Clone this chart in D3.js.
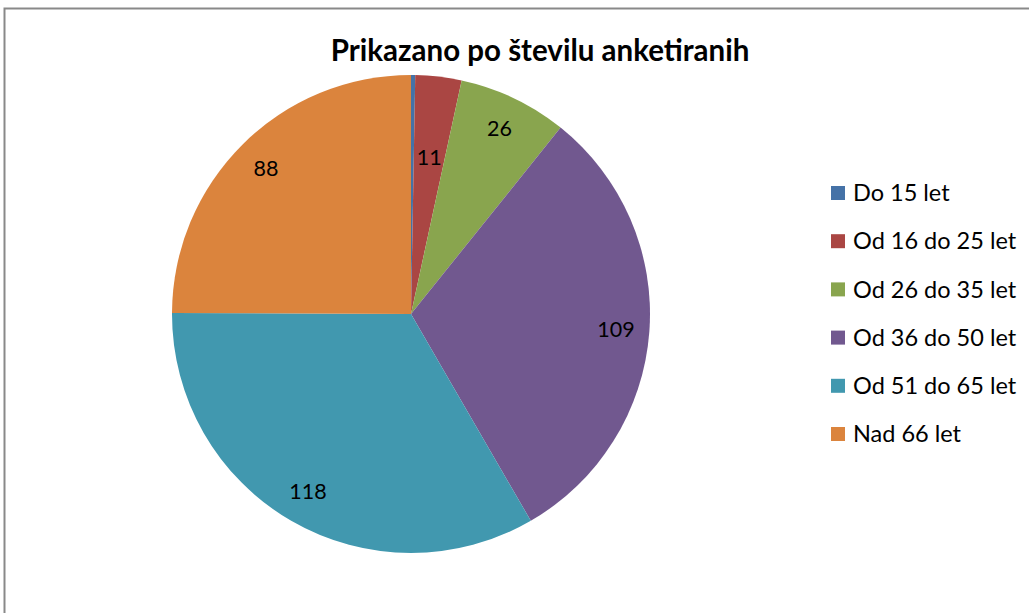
<!DOCTYPE html>
<html><head><meta charset="utf-8">
<script src="https://cdn.jsdelivr.net/npm/d3@7"></script>
<style>body{margin:0;background:#fff}svg{display:block}text{font-family:Lato,"Liberation Sans",sans-serif}</style>
</head><body>
<script>
const categories = ["Do 15 let","Od 16 do 25 let","Od 26 do 35 let","Od 36 do 50 let","Od 51 do 65 let","Nad 66 let"];
const values = [1, 11, 26, 109, 118, 88];
const showLabel = [false, true, true, true, true, true];
const colors = ["#4572A7","#AA4643","#89A54E","#71588F","#4198AF","#DB843D"];
const title = "Prikazano po številu anketiranih";

const W = 1029, H = 613;
const svg = d3.select("body").append("svg").attr("width", W).attr("height", H);
svg.append("rect").attr("x",4.5).attr("y",8.5).attr("width",W+10).attr("height",H+10)
  .attr("fill","#fff").attr("stroke","#898989").attr("stroke-width",2);

svg.append("text").attr("x",540).attr("y",61).attr("text-anchor","middle")
  .attr("font-size",29.5).attr("font-weight","bold").attr("fill","#000").text(title);

const cx = 411, cy = 314, r = 239;
const pie = d3.pie().sort(null).value(d => d)(values);
const arc = d3.arc().innerRadius(0).outerRadius(r);
const g = svg.append("g").attr("transform", `translate(${cx},${cy})`);
g.selectAll("path").data(pie).join("path").attr("d", arc).attr("fill", (d,i) => colors[i]);

const labelArc = d3.arc().innerRadius(r*0.86).outerRadius(r*0.86);
const innerLabelArc = d3.arc().innerRadius(r*0.66).outerRadius(r*0.66);
g.selectAll("text.lbl").data(pie).join("text").attr("class","lbl")
  .filter((d,i) => showLabel[i])
  .attr("transform", (d) => {
    const span = d.endAngle - d.startAngle;
    const p = (span < 0.25 ? innerLabelArc : labelArc).centroid(d);
    return `translate(${p[0]},${p[1]})`;
  })
  .attr("text-anchor","middle").attr("dy","0.35em")
  .attr("font-size",21.5).attr("fill","#000").text(d => d.data);

const leg = svg.append("g").attr("transform","translate(831,0)");
const rowY = d3.scaleLinear().domain([0,5]).range([193,434]);
categories.forEach((c,i) => {
  leg.append("rect").attr("x",0).attr("y",rowY(i)-7).attr("width",14).attr("height",14).attr("fill",colors[i]);
  leg.append("text").attr("x",22).attr("y",rowY(i)).attr("dy","0.35em")
    .attr("font-size",23.5).attr("fill","#000").text(c);
});
</script>
</body></html>
